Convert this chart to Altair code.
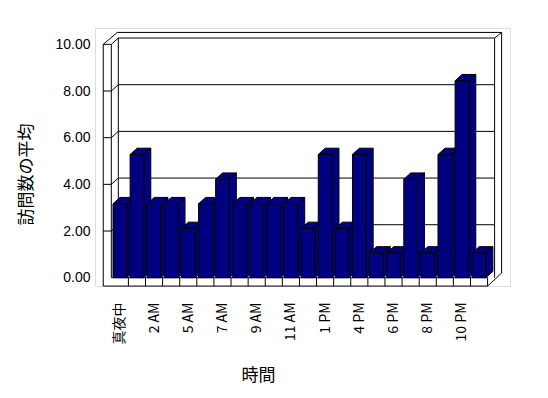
import json
import altair as alt
import pandas as pd

# ---- data ----
hours = ["真夜中", "1 AM", "2 AM", "3 AM", "5 AM", "6 AM", "7 AM", "8 AM", "9 AM",
         "10 AM", "11 AM", "正午", "1 PM", "3 PM", "4 PM", "5 PM", "6 PM", "7 PM",
         "8 PM", "9 PM", "10 PM", "11 PM"]
visits = [3.17, 5.28, 3.17, 3.17, 2.11, 3.17, 4.22, 3.17, 3.17, 3.17, 3.17, 2.11,
          5.28, 2.11, 5.28, 1.06, 1.06, 4.22, 1.06, 5.28, 8.44, 1.06]
y_ticks = [0, 2, 4, 6, 8, 10]
y_title = "訪問数の平均"
x_title = "時間"

# ---- style / geometry constants (data units) ----
N = len(hours)
VMAX = 10
GAP = 0.1      # inset of bar front inside its category cell
DX = 0.41      # 3-D depth offset, x
DV = 0.27      # 3-D depth offset, value
TW = 0.47      # left wall thickness
TF = 0.36      # floor thickness
TT = 0.24      # back wall top thickness
NAVY = "#000080"

XD = [-0.953, 23.31]
YD = [-0.356, 10.70]

# bar faces
fronts = pd.DataFrame({"x": [k + GAP for k in range(N)],
                       "x2": [k + 1 - GAP for k in range(N)],
                       "lo": [0.0] * N, "hi": visits, "hour": hours})
side_rows, cap_rows = [], []
for k, v in enumerate(visits):
    L, R = k + GAP, k + 1 - GAP
    side_rows += [dict(id=k, x=R, lo=0.0, hi=v), dict(id=k, x=R + DX, lo=DV, hi=v + DV)]
    cap_rows += [dict(id=k, x=L, lo=v, hi=v), dict(id=k, x=L + DX, lo=v, hi=v + DV),
                 dict(id=k, x=R, lo=v, hi=v + DV), dict(id=k, x=R + DX, lo=v + DV, hi=v + DV)]
sides = pd.DataFrame(side_rows)
caps = pd.DataFrame(cap_rows)

# frame (walls / floor) segments
BR = N + DX           # back wall right face
OR = N + 2 * DX       # outer right
segs = [
    (-TW, -TF, -TW, VMAX),
    (0, 0, 0, VMAX),
    (-TW, VMAX, 0, VMAX),
    (-TW, VMAX, -TW + 2 * DX, VMAX + DV + TT),
    (0, VMAX, DX, VMAX + DV),
    (-TW + 2 * DX, VMAX + DV + TT, OR, VMAX + DV + TT),
    (DX, VMAX + DV, BR, VMAX + DV),
    (DX, DV, DX, VMAX + DV),
    (BR, 0, BR, VMAX + DV),
    (BR, VMAX + DV, OR, VMAX + DV + TT),
    (OR, 0.2, OR, VMAX + DV + TT),
    (N, -TF, OR, 0.2),
    (-TW, -TF, N, -TF),
    (0, 0, N, 0),
    (N, -TF, N, 0),
]
segs += [(k, -TF, k, 0) for k in range(1, N)]
for t in y_ticks[1:-1]:
    segs += [(DX, t + DV, BR, t + DV), (-TW, t, 0, t), (0, t, DX, t + DV)]
frame = pd.DataFrame(segs, columns=["x", "y", "x2", "y2"])

label_vals = [k + 0.5 for k in range(0, N, 2)]
label_expr = json.dumps(hours, ensure_ascii=False) + "[floor(datum.value)]"

xs = alt.Scale(domain=XD, nice=False, zero=False)
ys = alt.Scale(domain=YD, nice=False, zero=False)
x_axis = alt.Axis(values=label_vals, labelExpr=label_expr, labelAngle=270, labelPadding=16,
                  ticks=False, domain=False, grid=False, labelOverlap=False,
                  labelFont="Noto Sans CJK JP", labelFontSize=14, labelColor="black",
                  title=x_title, titleFont="Noto Sans CJK JP", titleFontSize=17,
                  titleFontWeight="normal", titleColor="black", titleX=163, titleY=89,
                  titleAlign="center", titleBaseline="middle")
y_axis = alt.Axis(values=y_ticks, format=".2f", ticks=False, domain=False, grid=False,
                  labelPadding=5, labelFont="Liberation Sans", labelFontSize=14,
                  labelColor="black", title=y_title, titleFont="Noto Sans CJK JP",
                  titleFontSize=17, titleFontWeight="normal", titleColor="black",
                  titleAngle=270, titleX=-69, titleY=146, titleAlign="center",
                  titleBaseline="middle")


def X(f):
    return alt.X(f, type="quantitative", scale=xs, axis=x_axis)


def Y(f):
    return alt.Y(f, type="quantitative", scale=ys, axis=y_axis)


frame_layer = alt.Chart(frame).mark_rule(color="black", strokeWidth=1).encode(
    x=X("x"), y=Y("y"), x2="x2:Q", y2="y2:Q")

side_layer = alt.Chart(sides).mark_area(fill=NAVY, stroke="black", strokeWidth=1,
                                        fillOpacity=1, interpolate="linear").encode(
    x=X("x"), y=Y("lo"), y2="hi:Q", detail="id:N")

cap_layer = alt.Chart(caps).mark_area(fill=NAVY, stroke="black", strokeWidth=1,
                                      fillOpacity=1, interpolate="linear").encode(
    x=X("x"), y=Y("lo"), y2="hi:Q", detail="id:N")

front_layer = alt.Chart(fronts).mark_rect(fill=NAVY, stroke="black", strokeWidth=1).encode(
    x=X("x"), x2="x2:Q", y=Y("lo"), y2="hi:Q")

chart = alt.layer(frame_layer, side_layer, cap_layer, front_layer).properties(
    width=415, height=258,
    autosize=alt.AutoSizeParams(type="none"),
    padding={"left": 87, "top": 20, "right": 20, "bottom": 100},
).configure_view(stroke="transparent", strokeWidth=0, strokeOpacity=0).configure(
    background="white")

chart.save("out.html", embed_options={"renderer": "svg", "actions": False})
